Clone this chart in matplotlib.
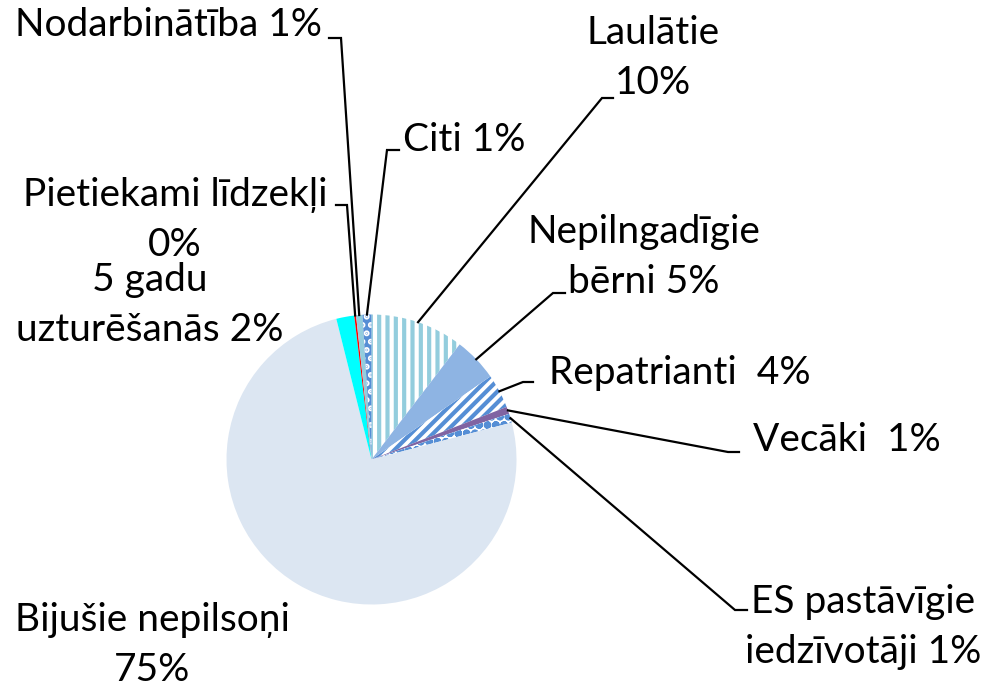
import numpy as np
import matplotlib
matplotlib.use("Agg")
import matplotlib.pyplot as plt

# slices clockwise from 12 o'clock, sizes in percent
categories = ["Laulātie", "Nepilngadīgie bērni", "Repatrianti", "Vecāki",
              "ES pastāvīgie iedzīvotāji", "Bijušie nepilsoņi",
              "5 gadu uzturēšanās", "Pietiekami līdzekļi", "Nodarbinātība", "Citi"]
shares = [10.4, 4.9, 3.8, 0.8, 1.0, 75.2, 2.0, 0.2, 0.7, 1.0]
label_texts = ["Laulātie\n10%", "Nepilngadīgie\nbērni 5%", "Repatrianti  4%",
               "Vecāki  1%", "ES pastāvīgie\niedzīvotāji 1%", "Bijušie nepilsoņi\n75%",
               "5 gadu\nuzturēšanās 2%", "Pietiekami līdzekļi\n0%",
               "Nodarbinātība 1%", "Citi 1%"]

plt.rcParams['font.family'] = ['Lato', 'DejaVu Sans']
plt.rcParams['hatch.linewidth'] = 3.0

W, H = 986, 687
fig = plt.figure(figsize=(W / 100, H / 100), dpi=100)
ax = fig.add_axes([0, 0, 1, 1])

cx, cy, R = 371.5, H - 459.5, 145

# face, hatch colour, hatch
styles = [
    ('white', '#93cddd', '||'),
    ('#8eb4e3', None, None),
    ('white', '#558ed5', '///'),
    ('#8064a2', None, None),
    ('white', '#558ed5', 'oo'),
    ('#dce6f2', None, None),
    ('#00ffff', None, None),
    ('#ff0000', None, None),
    ('#93cddd', None, None),
    ('#558ed5', 'white', '..'),
]

wedges, _ = ax.pie(shares, startangle=90, counterclock=False,
                   center=(cx, cy), radius=R, frame=True,
                   wedgeprops=dict(linewidth=0))
for w, (fc, hc, hatch) in zip(wedges, styles):
    w.set_facecolor(fc)
    if hatch:
        w.set_edgecolor(hc)
        w.set_hatch(hatch)
ax.set_xlim(0, W)
ax.set_ylim(0, H)
ax.set_aspect('equal')
ax.axis('off')

# leader lines: (elbow, end of horizontal) in pixel coords, None = no line
leaders = [
    ((602, 98), (613, 98)),
    ((553, 293), (565, 293)),
    ((523, 382), (533, 382)),
    ((728, 452), (739, 452)),
    ((735, 610), (747, 610)),
    None,
    None,
    ((347, 205), (336, 205)),
    ((341, 38), (329, 38)),
    ((387, 150), (399, 150)),
]
# text anchor (x, y, ha)
text_pos = [
    (653, 58, 'center'),
    (644, 257, 'center'),
    (549, 373, 'left'),
    (753, 440, 'left'),
    (863, 627, 'center'),
    (152, 645, 'center'),
    (150, 305, 'center'),
    (175, 220, 'center'),
    (322, 25, 'right'),
    (403, 140, 'left'),
]

for w, lead, (tx, ty, ha), txt in zip(wedges, leaders, text_pos, label_texts):
    if lead is not None:
        ang = np.deg2rad((w.theta1 + w.theta2) / 2)
        x0, y0 = cx + R * np.cos(ang), cy + R * np.sin(ang)
        (ex, ey), (hx, hy) = lead
        ax.plot([x0, ex, hx], [y0, H - ey, H - hy], color='black', lw=1.6,
                solid_joinstyle='miter', zorder=3)
    ax.text(tx, H - ty, txt, ha=ha, va='center', multialignment='center',
            fontsize=28, color='black', linespacing=1.45)

fig.savefig("out.png", dpi=100)
